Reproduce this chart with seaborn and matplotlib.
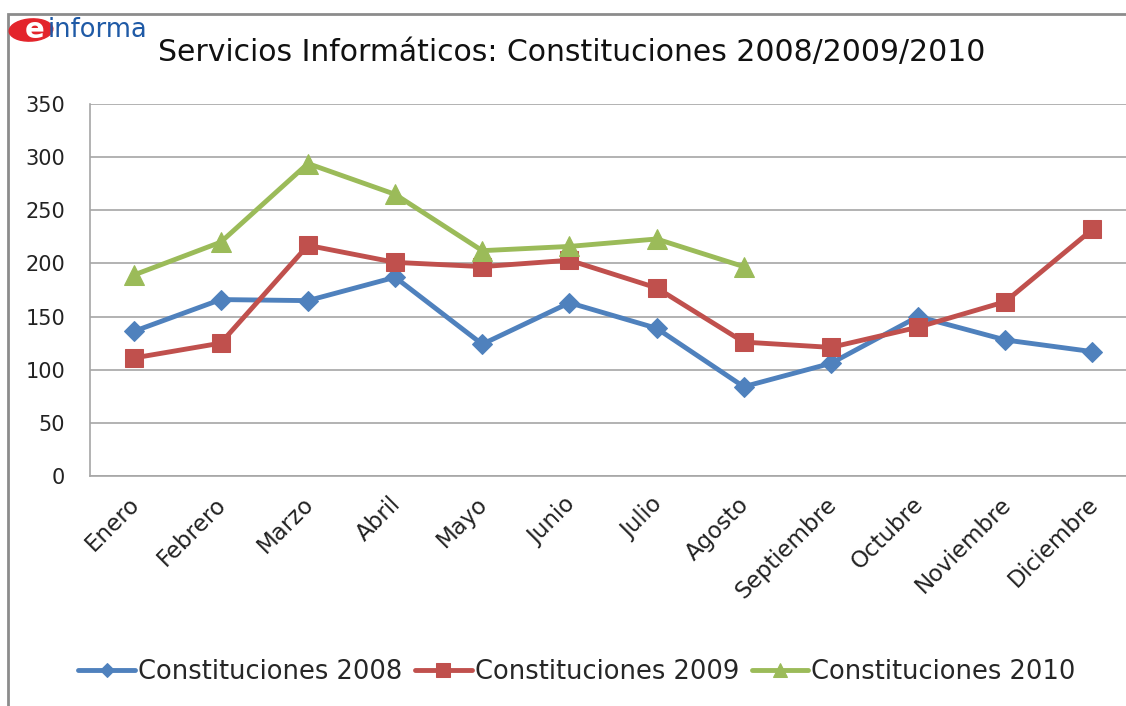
import matplotlib
matplotlib.use("Agg")
import matplotlib.pyplot as plt
from matplotlib.patches import Rectangle, Ellipse
from matplotlib.transforms import ScaledTranslation
import numpy as np
import seaborn as sns

meses = ["Enero", "Febrero", "Marzo", "Abril", "Mayo", "Junio", "Julio",
         "Agosto", "Septiembre", "Octubre", "Noviembre", "Diciembre"]
const_2008 = [136, 166, 165, 187, 124, 163, 139, 84, 106, 150, 128, 117]
const_2009 = [111, 125, 217, 201, 197, 203, 177, 126, 121, 140, 164, 232]
const_2010 = [189, 220, 294, 265, 212, 216, 223, 197]

series = [
    ("Constituciones 2008", const_2008, "#4F81BD", "D", 10),
    ("Constituciones 2009", const_2009, "#C0504D", "s", 13),
    ("Constituciones 2010", const_2010, "#9BBB59", "^", 14),
]

sns.set_style("white")
plt.rcParams["font.family"] = ["DejaVu Sans"]

fig = plt.figure(figsize=(11.26, 7.06), dpi=100)
ax = fig.add_axes([90 / 1126, 1 - 476 / 706, 1046 / 1126, 372 / 706])

for name, vals, color, mk, ms in series:
    sns.lineplot(x=np.arange(len(vals)), y=vals, ax=ax, color=color,
                 linewidth=3.5, marker=mk, markersize=ms,
                 markeredgecolor=color, label=name, legend=False)

ax.set_xlim(-0.5, 11.5)
ax.set_ylim(0, 350)
ax.set_yticks(range(0, 351, 50))
ax.set_xticks(range(len(meses)))
ax.set_xticklabels(meses, rotation=45, ha="right", rotation_mode="anchor")
ax.tick_params(axis="y", length=0, pad=18, labelsize=15, colors="#222222")
ax.tick_params(axis="x", length=0, pad=12, labelsize=16.5, colors="#222222")
shift = ScaledTranslation(-6 / 100, 0, fig.dpi_scale_trans)
for lbl in ax.get_xticklabels():
    lbl.set_transform(lbl.get_transform() + shift)
ax.yaxis.grid(True, color="#A6A6A6", linewidth=1.2)
ax.set_axisbelow(True)
for side in ["top", "right"]:
    ax.spines[side].set_visible(False)
for side in ["left", "bottom"]:
    ax.spines[side].set_color("#A6A6A6")
    ax.spines[side].set_linewidth(1.2)
ax.set_xlabel("")
ax.set_ylabel("")

# marco exterior del gráfico
fig.patches.append(Rectangle((8 / 1126, -0.1), 1.2, 1 - 14 / 706 + 0.1,
                             transform=fig.transFigure, fill=False,
                             edgecolor="#8C8C8C", linewidth=2))

# logo einforma
fig.patches.append(Ellipse((31 / 1126, 1 - 30 / 706), 44 / 1126, 22 / 706,
                           transform=fig.transFigure, color="#E3242B", angle=12))
fig.text(35 / 1126, 1 - 30 / 706, "e", color="white", fontsize=21,
         ha="center", va="center", fontweight="bold")
fig.text(48 / 1126, 1 - 30 / 706, "informa", color="#1F5AA6", fontsize=18.5,
         ha="left", va="center")

fig.text(572 / 1126, 1 - 52 / 706,
         "Servicios Informáticos: Constituciones 2008/2009/2010",
         fontsize=21.5, ha="center", va="center", color="#111111")

handles, labels = ax.get_legend_handles_labels()
fig.legend(handles, labels, loc="center", bbox_to_anchor=(577 / 1126, 1 - 672 / 706),
           ncol=3, frameon=False, fontsize=18.5, handlelength=2.2,
           handletextpad=0.12, columnspacing=0.5, markerscale=0.75)

fig.savefig("out.png", dpi=100)
